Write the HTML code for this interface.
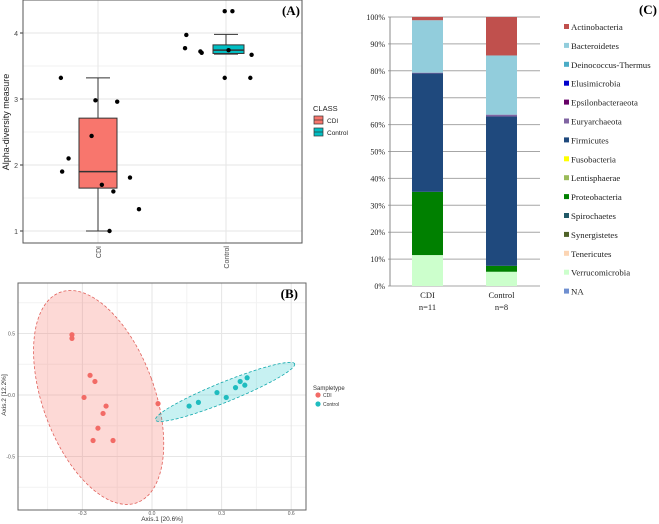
<!DOCTYPE html>
<html><head><meta charset="utf-8"><style>
body{margin:0;background:#fff;}
svg{display:block;font-family:"Liberation Sans",sans-serif;}
.ser{font-family:"Liberation Serif",serif;}
</style></head><body>
<svg id="s" width="659" height="524" viewBox="0 0 659 524"></svg>
<script>
// Panel A data
const aCats=["CDI","Control"];
const aTicks=[1,2,3,4];
const aBoxes=[{min:1.0,q1:1.65,med:1.9,q3:2.71,max:3.32},{min:3.68,q1:3.69,med:3.74,q3:3.82,max:3.98}];
const aPtsCDI=[[-0.29,3.32],[-0.28,1.9],[-0.23,2.1],[-0.02,2.98],[-0.05,2.44],[0.15,2.96],[0.03,1.7],[0.12,1.6],[0.25,1.81],[0.32,1.33],[0.09,1.0]];
const aPtsCtl=[[-0.31,3.97],[-0.32,3.77],[-0.2,3.72],[-0.19,3.7],[-0.01,4.33],[0.05,4.33],[0.02,3.74],[0.2,3.67],[-0.01,3.32],[0.19,3.32]];
// Panel B data
const bXTicks=[-0.3,0.0,0.3,0.6];
const bYTicks=[-0.5,0.0,0.5];
const bCDI=[[-0.345,0.49],[-0.345,0.46],[-0.267,0.16],[-0.246,0.11],[-0.293,-0.02],[-0.198,-0.09],[-0.211,-0.15],[-0.233,-0.27],[-0.254,-0.37],[-0.168,-0.37],[0.026,-0.07]];
const bCtl=[[0.16,-0.09],[0.2,-0.06],[0.28,0.02],[0.32,-0.02],[0.36,0.06],[0.38,0.11],[0.4,0.08],[0.41,0.14]];
const bEllCDI={cx:-0.23,cy:-0.02,rx:56,ry:112,rot:-20};
const bEllCtl={cx:0.315,cy:0.025,rx:75,ry:10,rot:-22};
// Panel C data
const cCats=["CDI","Control"];
const cSub=["n=11","n=8"];
const cNames=["Actinobacteria","Bacteroidetes","Deinococcus-Thermus","Elusimicrobia","Epsilonbacteraeota","Euryarchaeota","Firmicutes","Fusobacteria","Lentisphaerae","Proteobacteria","Spirochaetes","Synergistetes","Tenericutes","Verrucomicrobia","NA"];
const cColors=["#c0504d","#92cddc","#4bacc6","#0000cc","#660066","#8064a2","#1f497d","#ffff00","#9bbb59","#008000","#215967","#4f6228","#fcd5b4","#ccffcc","#6f8fd0"];
const cCDI=[1.2,19.5,0,0,0,0.3,44,0,0,23.5,0,0,0,11.5,0];
const cCtl=[14.3,22,0,0,0,0.7,55.5,0,0,2.2,0,0,0,5.3,0];
const cTicks=[0,10,20,30,40,50,60,70,80,90,100];

const S=document.getElementById('s');
const NS="http://www.w3.org/2000/svg";
function mk(tag,at,name,txt){const e=document.createElementNS(NS,tag);for(const k in at)e.setAttribute(k,at[k]);


if(txt!==undefined)e.textContent=txt;S.appendChild(e);return e;}

// ---------- Panel A ----------
const ay=v=>231-(v-1)*66, ax=i=>[98,226][i];
mk('rect',{x:23,y:0,width:279,height:243,fill:'#fff',stroke:'#333','stroke-width':1},'panel-a-frame');
[1.5,2.5,3.5].forEach(v=>mk('line',{x1:23,x2:302,y1:ay(v),y2:ay(v),stroke:'#f2f2f2'},'a-minor-grid'));
aTicks.forEach(v=>{mk('line',{x1:23,x2:302,y1:ay(v),y2:ay(v),stroke:'#e6e6e6'},'a-grid');
mk('line',{x1:20,x2:23,y1:ay(v),y2:ay(v),stroke:'#333'},'a-y-tick');
mk('text',{x:18,y:ay(v)+3,'font-size':7,'text-anchor':'end',fill:'#444'},'a-y-tick-label',v);});
aCats.forEach((c,i)=>{mk('line',{x1:ax(i),x2:ax(i),y1:0,y2:243,stroke:'#e6e6e6'},'a-xgrid');
mk('text',{x:0,y:0,'font-size':7,fill:'#444','text-anchor':'end',transform:`translate(${ax(i)+3},246) rotate(-90)`},'a-x-tick-label',c);});
mk('rect',{x:23,y:0,width:279,height:243,fill:'none',stroke:'#555','stroke-width':1},'panel-a-border');
const aFill=['#f8766d','#00bfc4'];
aBoxes.forEach((b,i)=>{const x=ax(i),w=i==0?38:31,x0=i==0?79:213;
mk('line',{x1:x,x2:x,y1:ay(b.max),y2:ay(b.q3),stroke:'#333'},'a-whisker');
mk('line',{x1:x,x2:x,y1:ay(b.q1),y2:ay(b.min),stroke:'#333'},'a-whisker');
mk('line',{x1:x-12,x2:x+12,y1:ay(b.max),y2:ay(b.max),stroke:'#333'},'a-whisker-cap');
mk('line',{x1:x-12,x2:x+12,y1:ay(b.min),y2:ay(b.min),stroke:'#333'},'a-whisker-cap');
mk('rect',{x:x0,y:ay(b.q3),width:w,height:ay(b.q1)-ay(b.q3),fill:aFill[i],stroke:'#333'},'a-box-'+aCats[i].toLowerCase());
mk('line',{x1:x0,x2:x0+w,y1:ay(b.med),y2:ay(b.med),stroke:'#333','stroke-width':1.5},'a-median');});
aPtsCDI.forEach(p=>mk('circle',{cx:ax(0)+p[0]*128,cy:ay(p[1]),r:2.2,fill:'#000'},'a-point-cdi'));
aPtsCtl.forEach(p=>mk('circle',{cx:ax(1)+p[0]*128,cy:ay(p[1]),r:2.2,fill:'#000'},'a-point-control'));
mk('text',{x:0,y:0,'font-size':9,fill:'#222','text-anchor':'middle',transform:'translate(9,122) rotate(-90)'},'a-y-axis-title','Alpha-diversity measure');
mk('text',{x:300,y:15,'font-size':13,'font-weight':'bold','text-anchor':'end',class:'ser'},'panel-a-label','(A)');
mk('text',{x:313,y:111,'font-size':7.5,fill:'#222'},'a-legend-title','CLASS');
aCats.forEach((c,i)=>{const y=116+i*12;
mk('rect',{x:314,y:y,width:9,height:8,fill:aFill[i],stroke:'#333','stroke-width':.7},'a-legend-key');
mk('line',{x1:314,x2:323,y1:y+4,y2:y+4,stroke:'#333','stroke-width':.7},'a-legend-key-line');
mk('text',{x:327,y:y+7,'font-size':6.5,fill:'#222'},'a-legend-label',c);});

// ---------- Panel B ----------
const bx=v=>152+v*232, by=v=>395-v*123;
mk('rect',{x:18,y:283,width:288,height:227,fill:'#fff'},'panel-b-bg');
[-0.45,-0.15,0.15,0.45].forEach(v=>mk('line',{x1:bx(v),x2:bx(v),y1:283,y2:510,stroke:'#f2f2f2'},'b-minor-grid'));
[-0.75,-0.25,0.25,0.75].forEach(v=>mk('line',{x1:18,x2:306,y1:by(v),y2:by(v),stroke:'#f2f2f2'},'b-minor-grid'));
bXTicks.forEach(v=>{mk('line',{x1:bx(v),x2:bx(v),y1:283,y2:510,stroke:'#e6e6e6'},'b-grid');
mk('text',{x:bx(v),y:515,'font-size':5,'text-anchor':'middle',fill:'#555'},'b-x-tick-label',v.toFixed(1));});
bYTicks.forEach(v=>{mk('line',{x1:18,x2:306,y1:by(v),y2:by(v),stroke:'#e6e6e6'},'b-grid');
mk('text',{x:15,y:by(v)+2,'font-size':5,'text-anchor':'end',fill:'#555'},'b-y-tick-label',v.toFixed(1));});
mk('rect',{x:18,y:283,width:288,height:227,fill:'none',stroke:'#666'},'panel-b-border');
[[bEllCDI,'rgba(248,118,109,0.28)','#e0605a','b-ellipse-cdi'],[bEllCtl,'rgba(0,191,196,0.22)','#10a8ac','b-ellipse-control']].forEach(([e,f,s,n])=>
mk('ellipse',{cx:0,cy:0,rx:e.rx,ry:e.ry,fill:f,stroke:s,'stroke-dasharray':'3,2','stroke-width':.8,transform:`translate(${bx(e.cx)},${by(e.cy)}) rotate(${e.rot})`},n));
bCDI.forEach(p=>mk('circle',{cx:bx(p[0]),cy:by(p[1]),r:2.6,fill:'#f26b66'},'b-point-cdi'));
bCtl.forEach(p=>mk('circle',{cx:bx(p[0]),cy:by(p[1]),r:2.6,fill:'#1fbcbf'},'b-point-control'));
mk('text',{x:162,y:521,'font-size':6.5,'text-anchor':'middle',fill:'#333'},'b-x-axis-title','Axis.1   [20.6%]');
mk('text',{x:0,y:0,'font-size':6.5,'text-anchor':'middle',fill:'#333',transform:'translate(6,395) rotate(-90)'},'b-y-axis-title','Axis.2   [12.2%]');
mk('text',{x:298,y:298,'font-size':13,'font-weight':'bold','text-anchor':'end',class:'ser'},'panel-b-label','(B)');
mk('text',{x:313,y:390,'font-size':6,fill:'#333'},'b-legend-title','Sampletype');
['CDI','Control'].forEach((c,i)=>{mk('circle',{cx:318,cy:395+i*9,r:2.6,fill:i?'#1fbcbf':'#f26b66'},'b-legend-key');
mk('text',{x:323,y:397+i*9,'font-size':5,fill:'#333'},'b-legend-label',c);});

// ---------- Panel C ----------
const cy=v=>286-v*2.69, cbx=[412,486];
cTicks.forEach(v=>{mk('line',{x1:388,x2:540,y1:cy(v),y2:cy(v),stroke:'#a6a6a6'},'c-grid');
mk('text',{x:385,y:cy(v)+3,'font-size':8,'text-anchor':'end',fill:'#222',class:'ser'},'c-y-tick-label',v+'%');});
mk('line',{x1:390,x2:390,y1:cy(100),y2:cy(0),stroke:'#888'},'c-y-axis');
[cCDI,cCtl].forEach((vals,i)=>{let acc=0;
for(let k=cNames.length-1;k>=0;k--){const v=vals[k];if(v<=0)continue;
mk('rect',{x:cbx[i],y:cy(acc+v),width:31,height:v*2.69,fill:cColors[k]},'c-bar-'+cCats[i].toLowerCase()+'-'+cNames[k].toLowerCase());acc+=v;}
mk('text',{x:cbx[i]+15.5,y:298,'font-size':8.5,'text-anchor':'middle',fill:'#222',class:'ser'},'c-x-tick-label',cCats[i]);
mk('text',{x:cbx[i]+15.5,y:310,'font-size':8.5,'text-anchor':'middle',fill:'#222',class:'ser'},'c-x-tick-sublabel',cSub[i]);});
cNames.forEach((n,k)=>{const y=27+k*18.9;
mk('rect',{x:564,y:y-3,width:5,height:5,fill:cColors[k]},'c-legend-key');
mk('text',{x:571,y:y+3,'font-size':8.8,fill:'#222',class:'ser'},'c-legend-label',n);});
mk('text',{x:657,y:14,'font-size':13,'font-weight':'bold','text-anchor':'end',class:'ser'},'panel-c-label','(C)');
</script>
</body></html>
